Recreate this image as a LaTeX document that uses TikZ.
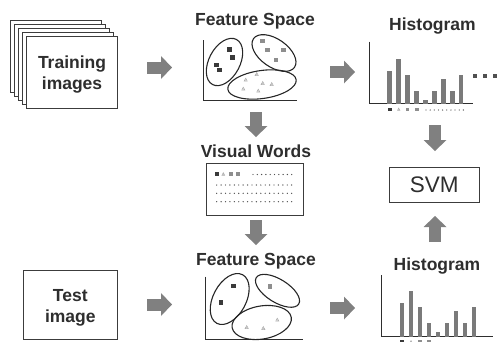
\documentclass[tikz,border=0pt]{standalone}
\usepackage{fontspec}
\setmainfont{Liberation Sans}
\usetikzlibrary{arrows.meta}

\definecolor{ink}{HTML}{2E2E2E}
\definecolor{frame}{HTML}{3C3C3C}
\definecolor{arrowgray}{HTML}{808080}
\definecolor{bargray}{HTML}{7A7A7A}
\definecolor{darksq}{HTML}{3A3A3A}
\definecolor{midsq}{HTML}{8E8E8E}
\definecolor{symgray}{HTML}{A8A8A8}
\definecolor{dotgray}{HTML}{505050}

\begin{document}
\begin{tikzpicture}[x=1pt,y=1pt,
  title/.style={font=\fontsize{17.5}{21}\selectfont\bfseries, text=ink, anchor=base, inner sep=0pt},
  label/.style={font=\fontsize{17.5}{21.5}\selectfont\bfseries, text=ink, align=center},
  sheet/.style={draw=frame, line width=1.1pt, fill=white, inner sep=0pt,
                minimum width=91pt, minimum height=72pt, anchor=north west},
  plainbox/.style={draw=frame, line width=1.1pt, fill=white, inner sep=0pt},
  blockarrow/.style={arrowgray, line width=12pt,
                     -{Triangle[length=11pt,width=23pt,line width=0pt]}},
  axis/.style={draw=ink, line width=0.9pt},
  cluster/.style={draw=black!85, line width=1.1pt},
  dsq/.pic={\fill[darksq] (-2.4,-2.4) rectangle (2.4,2.4);},
  msq/.pic={\fill[midsq] (-2.4,-2.4) rectangle (2.4,2.4);},
  glyph/.pic={\draw[symgray, line width=0.5pt] (0,1.8) -- (-1.6,-1.2) -- (1.6,-1.2) -- cycle;
              \fill[symgray] (0,-0.1) circle (0.5);},
]
\useasboundingbox (0,0) rectangle (498,-341);
\clip (0,0) rectangle (498,-341);

% ---------------- training image stack ----------------
\node[sheet] (s1) at (10,-20) {};
\node[sheet] (s2) at (14,-24) {};
\node[sheet] (s3) at (18,-28) {};
\node[sheet] (s4) at (22,-32) {};
\node[sheet] (train) at (26,-36) {};
\node[label] (traintext) at ([yshift=-2pt]train.center) {Training\\images};

% ---------------- test image ----------------
\node[plainbox, minimum width=94pt, minimum height=69pt] (test) at (70.3,-305.3) {};
\node[label] (testtext) at ([yshift=-2.5pt]test.center) {Test\\image};

% ---------------- titles ----------------
\node[title] (fs1) at (255,-25) {Feature Space};
\node[title] (h1) at (432.5,-30) {Histogram};
\node[title] (vw) at (256,-157.5) {Visual Words};
\node[title] (fs2) at (256,-265.5) {Feature Space};
\node[title] (h2) at (437,-270.5) {Histogram};

% ---------------- SVM ----------------
\node[draw=frame, line width=1.1pt, minimum width=90pt, minimum height=35.5pt, inner sep=0pt,
      font=\fontsize{22.5}{24}\selectfont, text=ink] (svm) at (434.2,-185) {SVM};

% ---------------- feature space (training) ----------------
\draw[axis] (203,-40) -- (203,-100) -- (297,-100);
\draw[cluster] (224.5,-62) ellipse[x radius=25.5, y radius=15.5, rotate=62];
\draw[cluster] (274,-53) ellipse[x radius=25, y radius=14, rotate=-35];
\draw[cluster] (262,-84.5) ellipse[x radius=34.5, y radius=14, rotate=8];
\pic at (229.3,-49.3) {dsq};
\pic at (232.7,-57.3) {dsq};
\pic at (216.7,-65) {dsq};
\pic at (219.3,-70) {dsq};
\pic at (262.7,-41) {msq};
\pic at (267.7,-50) {msq};
\pic at (283.3,-50) {msq};
\pic at (276,-60) {msq};
\pic at (245.7,-80) {glyph};
\pic at (256.7,-74.3) {glyph};
\pic at (262.7,-83.3) {glyph};
\pic at (271.7,-84.3) {glyph};
\pic at (243.3,-89) {glyph};
\pic at (258.3,-91) {glyph};

% ---------------- feature space (test) ----------------
\draw[axis] (205,-276.7) -- (205,-339) -- (303,-339);
\draw[cluster] (229.7,-299) ellipse[x radius=27.5, y radius=16.5, rotate=62];
\draw[cluster] (277.5,-290.8) ellipse[x radius=25, y radius=11.5, rotate=-32];
\draw[cluster] (261.7,-322.5) ellipse[x radius=30, y radius=16.5, rotate=10];
\pic at (233.3,-286) {dsq};
\pic at (221,-302.7) {dsq};
\pic at (270,-286.7) {msq};
\pic at (246.7,-327.3) {glyph};
\pic at (263.3,-328.3) {glyph};
\pic at (277.3,-320) {glyph};

% ---------------- visual words ----------------
\node[draw=frame, line width=0.9pt, minimum width=96.6pt, minimum height=51.7pt, inner sep=0pt] (vwbox) at (255,-189.2) {};
\pic[scale=0.85] at (216.7,-174.3) {dsq};
\pic[scale=0.9] at (223.3,-174.3) {glyph};
\pic[scale=0.85] at (230.7,-174.3) {msq};
\pic[scale=0.85] at (237.7,-174.3) {msq};
\foreach \k in {0,...,9} \fill[dotgray] (253+4.3*\k,-174.5) circle (0.7);
\foreach \yy in {185,193.3,201.7}
  \foreach \k in {0,...,17} \fill[dotgray] (216.7+4.41*\k,-\yy) circle (0.7);

% ---------------- histogram (training) ----------------
\draw[axis] (369.3,-41.7) -- (369.3,-103.5) -- (473.3,-103.5);
\foreach \h [count=\i] in {32.8,44.5,28.2,12.5,3.8,12.5,24.2,12.5,28.2}
  \fill[bargray] ({389.8+8.9*(\i-1)-2.45},-103.5) rectangle ++(4.9,\h);
\foreach \xx in {475,485,495} \fill[dotgray] (\xx-1.7,-77.7) rectangle ++(3.4,3.4);
\pic[scale=0.75] at (389.7,-109.5) {dsq};
\pic[scale=0.8] at (398.7,-109.5) {glyph};
\pic[scale=0.75] at (407.3,-109.5) {msq};
\pic[scale=0.75] at (416.7,-109.5) {msq};
\foreach \k in {0,...,9} \fill[dotgray] (426+4.15*\k,-110) circle (0.65);

% ---------------- histogram (test) ----------------
\draw[axis] (381.7,-275) -- (381.7,-336.7) -- (493,-336.7);
\foreach \h [count=\i] in {34,45.7,29.4,13.4,5,13.4,25.4,13.4,29.4}
  \fill[bargray] ({402+9.0*(\i-1)-2.4},-336.7) rectangle ++(4.8,\h);
\pic[scale=0.75] at (402,-342) {dsq};
\pic[scale=0.8] at (411,-342) {glyph};
\pic[scale=0.75] at (420,-342) {msq};
\pic[scale=0.75] at (429,-342) {msq};

% ---------------- block arrows ----------------
\coordinate (a1s) at (147,-67.5);   \coordinate (a1e) at (172,-67.5);
\coordinate (a2s) at (330,-72);     \coordinate (a2e) at (355,-72);
\coordinate (a3s) at (256,-112);    \coordinate (a3e) at (256,-137);
\coordinate (a4s) at (256,-220);    \coordinate (a4e) at (256,-245);
\coordinate (a5s) at (147,-304.5);  \coordinate (a5e) at (172,-304.5);
\coordinate (a6s) at (330,-308);    \coordinate (a6e) at (355,-308);
\coordinate (a7s) at (435,-125);    \coordinate (a7e) at (435,-151);
\coordinate (a8s) at (435,-242);    \coordinate (a8e) at (435,-216);
\foreach \n in {1,...,8} \draw[blockarrow] (a\n s) -- (a\n e);
\end{tikzpicture}
\end{document}
